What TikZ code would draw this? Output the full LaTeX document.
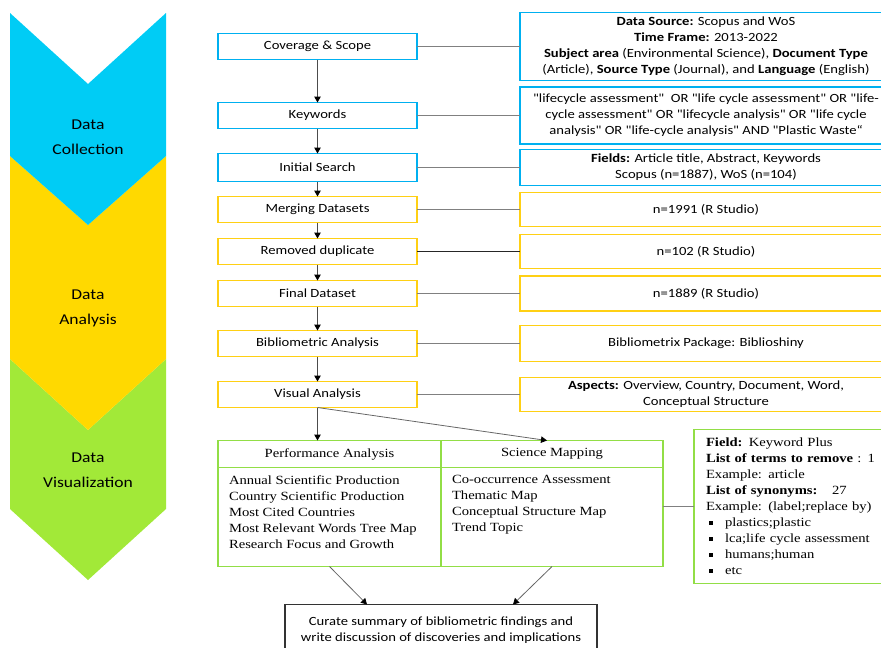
\documentclass[tikz,border=0pt]{standalone}
\usepackage{fontspec}
\setmainfont{Carlito}[FakeStretch=1.17]
\newfontfamily\quotefont{Carlito}[FakeStretch=1.17, Ligatures=TeXOff]
\newfontfamily\timesfont{Liberation Serif}[FakeStretch=1.17]
\usepackage{tikz}
\usetikzlibrary{shapes,arrows.meta,positioning,calc}
\definecolor{chevblue}{RGB}{0,204,245}
\definecolor{chevyellow}{RGB}{255,217,0}
\definecolor{chevgreen}{RGB}{162,233,56}
\definecolor{lineblue}{RGB}{0,176,240}
\definecolor{lineyellow}{RGB}{255,208,20}
\definecolor{linegreen}{RGB}{146,222,70}
\newcommand{\sqbullet}{\hspace{3pt}\rule[2pt]{4pt}{4pt}\hspace{12pt}}

\begin{document}
\begin{tikzpicture}[
    x=1pt, y=-1pt,
    phase/.style={align=center, font=\fontsize{15}{25}\selectfont},
    stage/.style={rectangle, draw=lineblue, line width=1.5pt, outer sep=0pt, minimum width=199pt, minimum height=26pt, inner sep=0pt, font=\fontsize{12.5}{16}\selectfont},
    info/.style={rectangle, draw=lineblue, line width=1.5pt, outer sep=0pt, minimum width=372pt, align=center, inner sep=0pt, font=\fontsize{12.5}{16}\selectfont},
    gold/.style={draw=lineyellow},
    tabhead/.style={rectangle, draw=linegreen, line width=1.2pt, outer sep=0pt, minimum height=27pt, inner sep=0pt, font=\timesfont\fontsize{12.5}{16}\selectfont},
    tabbody/.style={rectangle, draw=linegreen, line width=1.2pt, outer sep=0pt, inner xsep=11pt, inner ysep=8pt, font=\timesfont\fontsize{12.5}{16}\selectfont},
    fieldbox/.style={rectangle, draw=linegreen, line width=1.2pt, outer sep=0pt, minimum width=200pt, minimum height=154pt, text width=176pt, align=left, inner xsep=12pt, font=\timesfont\fontsize{12.5}{16}\selectfont},
    summary/.style={rectangle, draw=black!80, line width=1.2pt, outer sep=0pt, minimum width=312pt, align=center, inner ysep=12pt, font=\fontsize{12.5}{16}\selectfont},
    arrow/.style={-{Triangle[length=6pt,width=6.5pt,color=black]}, draw=black!70, line width=1.1pt},
    thinarrow/.style={-{Triangle[length=6pt,width=6.5pt,color=black]}, draw=black!60, line width=0.8pt},
    link/.style={draw=black!50, line width=1.1pt}
]
\useasboundingbox (0,0) rectangle (881,648);
\clip (0,0) rectangle (881,648);

% Phases
\fill[chevgreen] (10,359) -- (88,430) -- (166,359) -- (166,509) -- (88,580) -- (10,509) -- cycle;
\fill[chevyellow] (10,156) -- (88,225) -- (166,156) -- (166,359) -- (88,430) -- (10,359) -- cycle;
\fill[chevblue] (10,13) -- (88,84) -- (166,13) -- (166,156) -- (88,225) -- (10,156) -- cycle;
\node[phase] (collection) at (88,137) {Data\\Collection};
\node[phase] (analysis) at (88,308) {Data\\Analysis};
\node[phase] (visualization) at (88,470) {Data\\Visualization};

% Steps
\node[stage] (coverage) at (317.5,46.5) {Coverage \& Scope};
\node[stage, below=43pt of coverage] (keywords) {Keywords};
\node[stage, below=25pt of keywords, minimum height=28pt] (search) {Initial Search};
\node[stage, gold, below=15pt of search] (merging) {Merging Datasets};
\node[stage, gold, below=16pt of merging] (duplicate) {Removed duplicate};
\node[stage, gold, below=16pt of duplicate] (final) {Final Dataset};
\node[stage, gold, below=24pt of final] (biblio) {Bibliometric Analysis};
\node[stage, gold, below=25pt of biblio] (visual) {Visual Analysis};

% Details
\node[info, right=103pt of coverage, minimum height=68pt] (source) {\textbf{Data Source:} Scopus and WoS\\
  \textbf{Time Frame:} 2013-2022\\
  \textbf{Subject area} (Environmental Science), \textbf{Document Type}\\
  (Article), \textbf{Source Type} (Journal), and \textbf{Language} (English)};
\node[info, right=103pt of keywords, minimum height=57pt, font=\quotefont\fontsize{12.5}{16}\selectfont] (query) {"lifecycle assessment"~ OR "life cycle assessment" OR "life-\\
  cycle assessment" OR "lifecycle analysis" OR "life cycle\\
  analysis" OR "life-cycle analysis" AND "Plastic Waste“};
\node[info, right=103pt of search, minimum height=36pt] (fields) {\textbf{Fields:} Article title, Abstract, Keywords\\
  Scopus (n=1887), WoS (n=104)};
\node[info, gold, right=103pt of merging, minimum height=34pt] (merged) {n=1991 (R Studio)};
\node[info, gold, right=103pt of duplicate, minimum height=34pt] (removed) {n=102 (R Studio)};
\node[info, gold, right=103pt of final, minimum height=35pt] (dataset) {n=1889 (R Studio)};
\node[info, gold, right=103pt of biblio, minimum height=36pt] (package) {Bibliometrix Package: Biblioshiny};
\node[info, gold, right=103pt of visual, minimum height=34pt] (aspects) {\textbf{Aspects:} Overview, Country, Document, Word,\\
  Conceptual Structure};

% Analysis table
\node[tabhead, minimum width=223pt, anchor=north west] (perfhead) at ([yshift=-33pt]visual.south west) {Performance Analysis};
\node[tabhead, minimum width=222pt, right=0pt of perfhead] (scihead) {Science Mapping};
\node[tabbody, below=0pt of perfhead] (perfbody) {\parbox[t][83pt][t]{201pt}{\raggedright
  Annual Scientific Production\\
  Country Scientific Production\\
  Most Cited Countries\\
  Most Relevant Words Tree Map\\
  Research Focus and Growth}};
\node[tabbody, below=0pt of scihead] (scibody) {\parbox[t][83pt][t]{200pt}{\raggedright
  Co-occurrence Assessment\\
  Thematic Map\\
  Conceptual Structure Map\\
  Trend Topic}};

% Keyword Plus settings
\node[fieldbox, right=31pt of scibody.east, anchor=west, yshift=10.5pt] (kwplus) {\textbf{Field:} Keyword Plus\\
  \textbf{List of terms to remove} : 1\\
  Example: article\\
  \textbf{List of synonyms:}~~ 27\\
  Example: (label;replace by)\\
  \sqbullet plastics;plastic\\
  \sqbullet lca;life cycle assessment\\
  \sqbullet humans;human\\
  \sqbullet etc};

% Output
\node[summary, anchor=north] (curate) at ([yshift=-38pt]perfbody.south east) {Curate summary of bibliometric findings and\\
  write discussion of discoveries and implications};

% Arrows
\draw[arrow] (coverage) -- (keywords);
\draw[arrow] (keywords) -- (search);
\draw[arrow] (search) -- (merging);
\draw[arrow] (merging) -- (duplicate);
\draw[arrow] (duplicate) -- (final);
\draw[arrow] (final) -- (biblio);
\draw[arrow] (biblio) -- (visual);
\draw[arrow] (visual.south) -- (visual.south |- perfhead.north);
\draw[thinarrow] (visual.south) -- ([xshift=-5pt]scihead.north);
\draw[thinarrow] (perfbody.south) -- ([xshift=-74pt]curate.north);
\draw[thinarrow] (scibody.south) -- ([xshift=72pt]curate.north);

\draw[link] (coverage) -- (source);
\draw[link] (keywords) -- (query);
\draw[link] (search) -- (fields);
\draw[link] (merging) -- (merged);
\draw[link, draw=black!85] (duplicate) -- (removed);
\draw[link] (final) -- (dataset);
\draw[link] (biblio) -- (package);
\draw[link] (visual) -- (aspects);
\draw[link, line width=0.8pt] (kwplus.west -| scibody.east) -- (kwplus.west);

\end{tikzpicture}
\end{document}
